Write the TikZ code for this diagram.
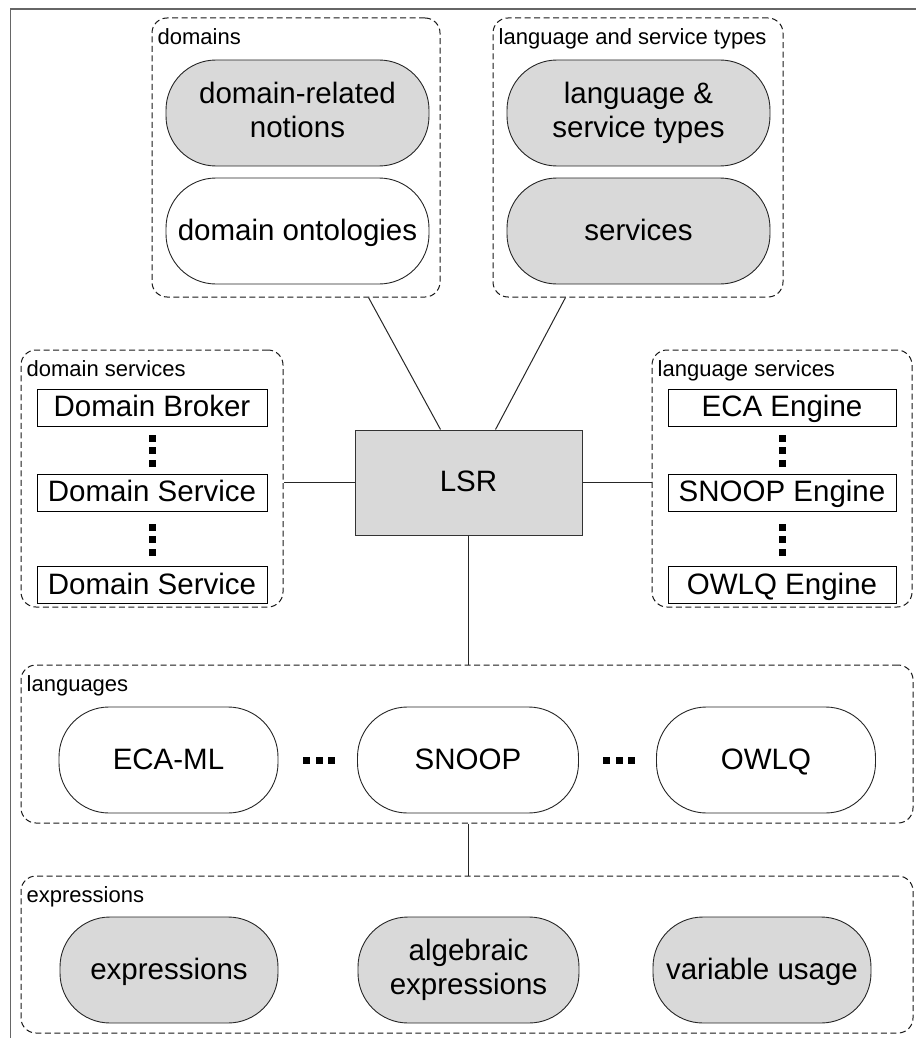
\documentclass[tikz,border=0pt]{standalone}
\usepackage{fontspec}
\setmainfont{Liberation Sans}
\definecolor{boxgray}{HTML}{D9D9D9}
\tikzset{
  groupbox/.style={draw=black!90, dashed, dash pattern=on 6pt off 3.5pt, line width=1pt, rounded corners=15pt, inner sep=0pt},
  grouplabel/.style={anchor=base west, inner sep=0pt, font=\fontsize{22}{26}\selectfont},
  stadium/.style={draw=black!85, line width=0.9pt, rounded corners=50pt, minimum height=106pt, align=center, inner sep=0pt, font=\fontsize{29.5}{34}\selectfont},
  oneline/.style={text height=18pt, text depth=0pt},
  gstadium/.style={stadium, fill=boxgray},
  wstadium/.style={stadium, fill=white},
  svcbox/.style={draw=black, line width=1pt, minimum height=37pt, inner sep=0pt, oneline, font=\fontsize{29.5}{34}\selectfont},
  lsrbox/.style={draw=black!80, line width=1pt, fill=boxgray, minimum width=227pt, minimum height=105pt, inner sep=0pt, oneline, font=\fontsize{29.5}{34}\selectfont},
  conn/.style={draw=black!85, line width=1pt},
  frameline/.style={draw=black!60, line width=1.8pt},
  dotsq/.style={fill=black}
}
\begin{document}
\begin{tikzpicture}[x=1pt,y=-1pt]
\useasboundingbox (0,0) rectangle (915,1038);
% frame
\draw[frameline] (10.5,1040) -- (10.5,9) -- (917,9);

% groups
\node[groupbox, minimum width=288pt, minimum height=279pt] (gdom) at (296,157.5) {};
\node[grouplabel] (ldom) at ([xshift=6pt,yshift=-27pt]gdom.north west) {domains};
\node[groupbox, minimum width=290pt, minimum height=279pt] (glst) at (638,157.5) {};
\node[grouplabel] (llst) at ([xshift=6pt,yshift=-27pt]glst.north west) {language and service types};
\node[groupbox, minimum width=262pt, minimum height=257pt] (gds) at (152,478.5) {};
\node[grouplabel] (lds) at ([xshift=6pt,yshift=-27pt]gds.north west) {domain services};
\node[groupbox, minimum width=260pt, minimum height=257pt] (gls) at (782,478.5) {};
\node[grouplabel] (lls) at ([xshift=6pt,yshift=-27pt]gls.north west) {language services};
\node[groupbox, minimum width=892pt, minimum height=158pt] (glang) at (467,744) {};
\node[grouplabel] (llang) at ([xshift=6pt,yshift=-27pt]glang.north west) {languages};
\node[groupbox, minimum width=892pt, minimum height=157pt] (gexpr) at (467,954.5) {};
\node[grouplabel] (lexpr) at ([xshift=6pt,yshift=-27pt]gexpr.north west) {expressions};

% domains
\node[gstadium, minimum width=263pt] (drn) at (297.5,113) {domain-related\\notions\vphantom{y}};
\node[wstadium, oneline, minimum width=263pt] (don) at (297.5,231) {domain ontologies};
% language and service types
\node[gstadium, minimum width=263pt] (lst) at (638.5,113) {language \&\\service types};
\node[gstadium, oneline, minimum width=263pt] (srv) at (638.5,231) {services};

% LSR
\node[lsrbox] (lsr) at (468.5,482.5) {LSR};

% domain services
\node[svcbox, minimum width=230pt] (db) at (152,407.5) {Domain Broker};
\node[svcbox, minimum width=230pt] (ds1) at (152,492.5) {Domain Service};
\node[svcbox, minimum width=230pt] (ds2) at (152,585) {Domain Service};
% language services
\node[svcbox, minimum width=228pt] (eca) at (782,407.5) {ECA Engine};
\node[svcbox, minimum width=228pt] (snoope) at (782,492.5) {SNOOP Engine};
\node[svcbox, minimum width=228pt] (owlqe) at (782,585) {OWLQ Engine};

% vertical dots
\foreach \cx in {152,782}{
  \foreach \cy in {438,450.5,463,527,539.5,552}{
    \fill[dotsq] (\cx-3.5,\cy-3.5) rectangle (\cx+3.5,\cy+3.5);
  }
}

% languages
\node[wstadium, oneline, minimum width=219pt] (ecaml) at (168.5,760) {ECA-ML};
\node[wstadium, oneline, minimum width=221pt] (snoop) at (468,760) {SNOOP};
\node[wstadium, oneline, minimum width=219pt] (owlq) at (766,760) {OWLQ};
% horizontal dots
\foreach \cx in {306.5,319,331.5,606.5,619,631.5}{
  \fill[dotsq] (\cx-3.5,756.5) rectangle (\cx+3.5,763.5);
}

% expressions
\node[gstadium, oneline, minimum width=218pt] (expr) at (169,970) {expressions};
\node[gstadium, minimum width=221pt] (alg) at (468.5,970) {algebraic\\expressions};
\node[gstadium, oneline, minimum width=218pt] (var) at (762,970) {variable usage};

% connectors
\draw[conn] ([xshift=86pt]lsr.north west) -- ([xshift=217pt]gdom.south west);
\draw[conn] ([xshift=141pt]lsr.north west) -- ([xshift=73pt]glst.south west);
\draw[conn] (lsr.west) -- (lsr.west -| gds.east);
\draw[conn] (lsr.east) -- (lsr.east -| gls.west);
\draw[conn] (lsr.south) -- (lsr.south |- glang.north);
\draw[conn] (lsr.south |- glang.south) -- (lsr.south |- gexpr.north);
\end{tikzpicture}
\end{document}
